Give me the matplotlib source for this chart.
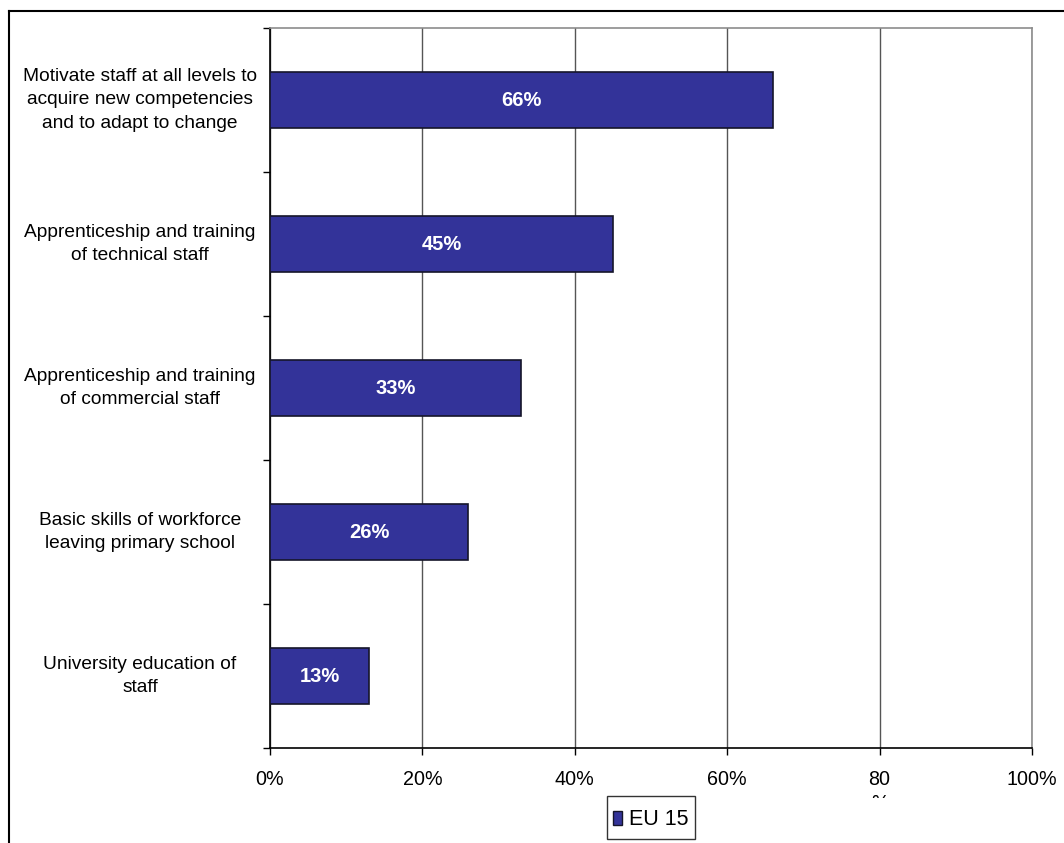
import numpy as np
import matplotlib.pyplot as plt
from matplotlib.patches import Patch, Rectangle
from matplotlib.lines import Line2D
from matplotlib.legend_handler import HandlerPatch
from matplotlib.transforms import Bbox, blended_transform_factory

plt.rcParams['font.family'] = ['Liberation Sans', 'DejaVu Sans']

categories = ['Motivate staff at all levels to\nacquire new competencies\nand to adapt to change',
              'Apprenticeship and training\nof technical staff',
              'Apprenticeship and training\nof commercial staff',
              'Basic skills of workforce\nleaving primary school',
              'University education of\nstaff']
values = [66, 45, 33, 26, 13]
xticks = [0, 20, 40, 60, 80, 100]
xtick_labels = ['0%', '20%', '40%', '60%', '80\n%', '100%']
series_name = 'EU 15'

bar_color = '#333399'
edge = '#15152a'

fig = plt.figure(figsize=(10.64, 8.43), dpi=100)
W, H = 1064, 843
ax = fig.add_axes([270 / W, 95 / H, 762 / W, 720 / H])

y = np.arange(len(categories))
ax.barh(y, values, height=0.39, color=bar_color, edgecolor=edge, lw=1.2, zorder=3)

for yi, v in zip(y, values):
    ax.text(v / 2, yi, f'{v}%', color='white', fontsize=14.5, fontweight='bold',
            ha='center', va='center', zorder=4)

ax.set_xlim(0, 100)
ax.set_ylim(len(categories) - 0.5, -0.5)

# vertical grid
ax.set_xticks(xticks)
ax.set_xticklabels(xtick_labels, fontsize=14.2, linespacing=1.3)
ax.xaxis.grid(True, color='#555555', lw=1, zorder=0)
ax.tick_params(axis='x', direction='out', length=5, width=1, pad=11, color='black')

# category boundaries get the tick marks, labels drawn separately
ax.set_yticks(np.arange(-0.5, len(categories) + 0.5, 1))
ax.set_yticklabels([])
ax.tick_params(axis='y', direction='out', length=5, width=1, color='black')

trans = blended_transform_factory(ax.transAxes, ax.transData)
for yi, cat in zip(y, categories):
    ax.text(-0.1706, yi, cat, transform=trans, ha='center', va='center',
            multialignment='center', fontsize=13.8, linespacing=1.5)

for side in ['top', 'right']:
    ax.spines[side].set_color('#8c8c8c')
    ax.spines[side].set_linewidth(1.2)
for side in ['left', 'bottom']:
    ax.spines[side].set_color('black')
    ax.spines[side].set_linewidth(1.2)

# the wrapped "80 %" label gets cut off below
clip = Bbox.from_extents(0, H - 798, W, H)
for lab in ax.get_xticklabels():
    lab.set_clip_box(clip)
    lab.set_clip_on(True)

# outer frame of the chart area
fig.add_artist(Line2D([8.5 / W, 8.5 / W], [0, (H - 10.5) / H], color='black', lw=1.5))
fig.add_artist(Line2D([8.5 / W, 1], [(H - 10.5) / H, (H - 10.5) / H], color='black', lw=1.5))


def small_box(legend, orig_handle, xdescent, ydescent, width, height, fontsize):
    # small upright key inside a taller legend row
    w, h = 9 * 72 / 100, 14 * 72 / 100
    return Rectangle((-xdescent + (width - w) / 2, -ydescent + (height - h) / 2), w, h)


leg = fig.legend(handles=[Patch(facecolor=bar_color, edgecolor=edge, lw=1)],
                 labels=[series_name], loc='upper left',
                 bbox_to_anchor=(607 / W, (H - 796) / H), fontsize=15.5,
                 frameon=True, fancybox=False, shadow=False, borderaxespad=0,
                 handlelength=0.45, handleheight=1.85, handletextpad=0.3,
                 borderpad=0.28,
                 handler_map={Patch: HandlerPatch(patch_func=small_box)})
leg.get_frame().set_edgecolor('black')
leg.get_frame().set_linewidth(1)

fig.savefig('out.png', dpi=100)
